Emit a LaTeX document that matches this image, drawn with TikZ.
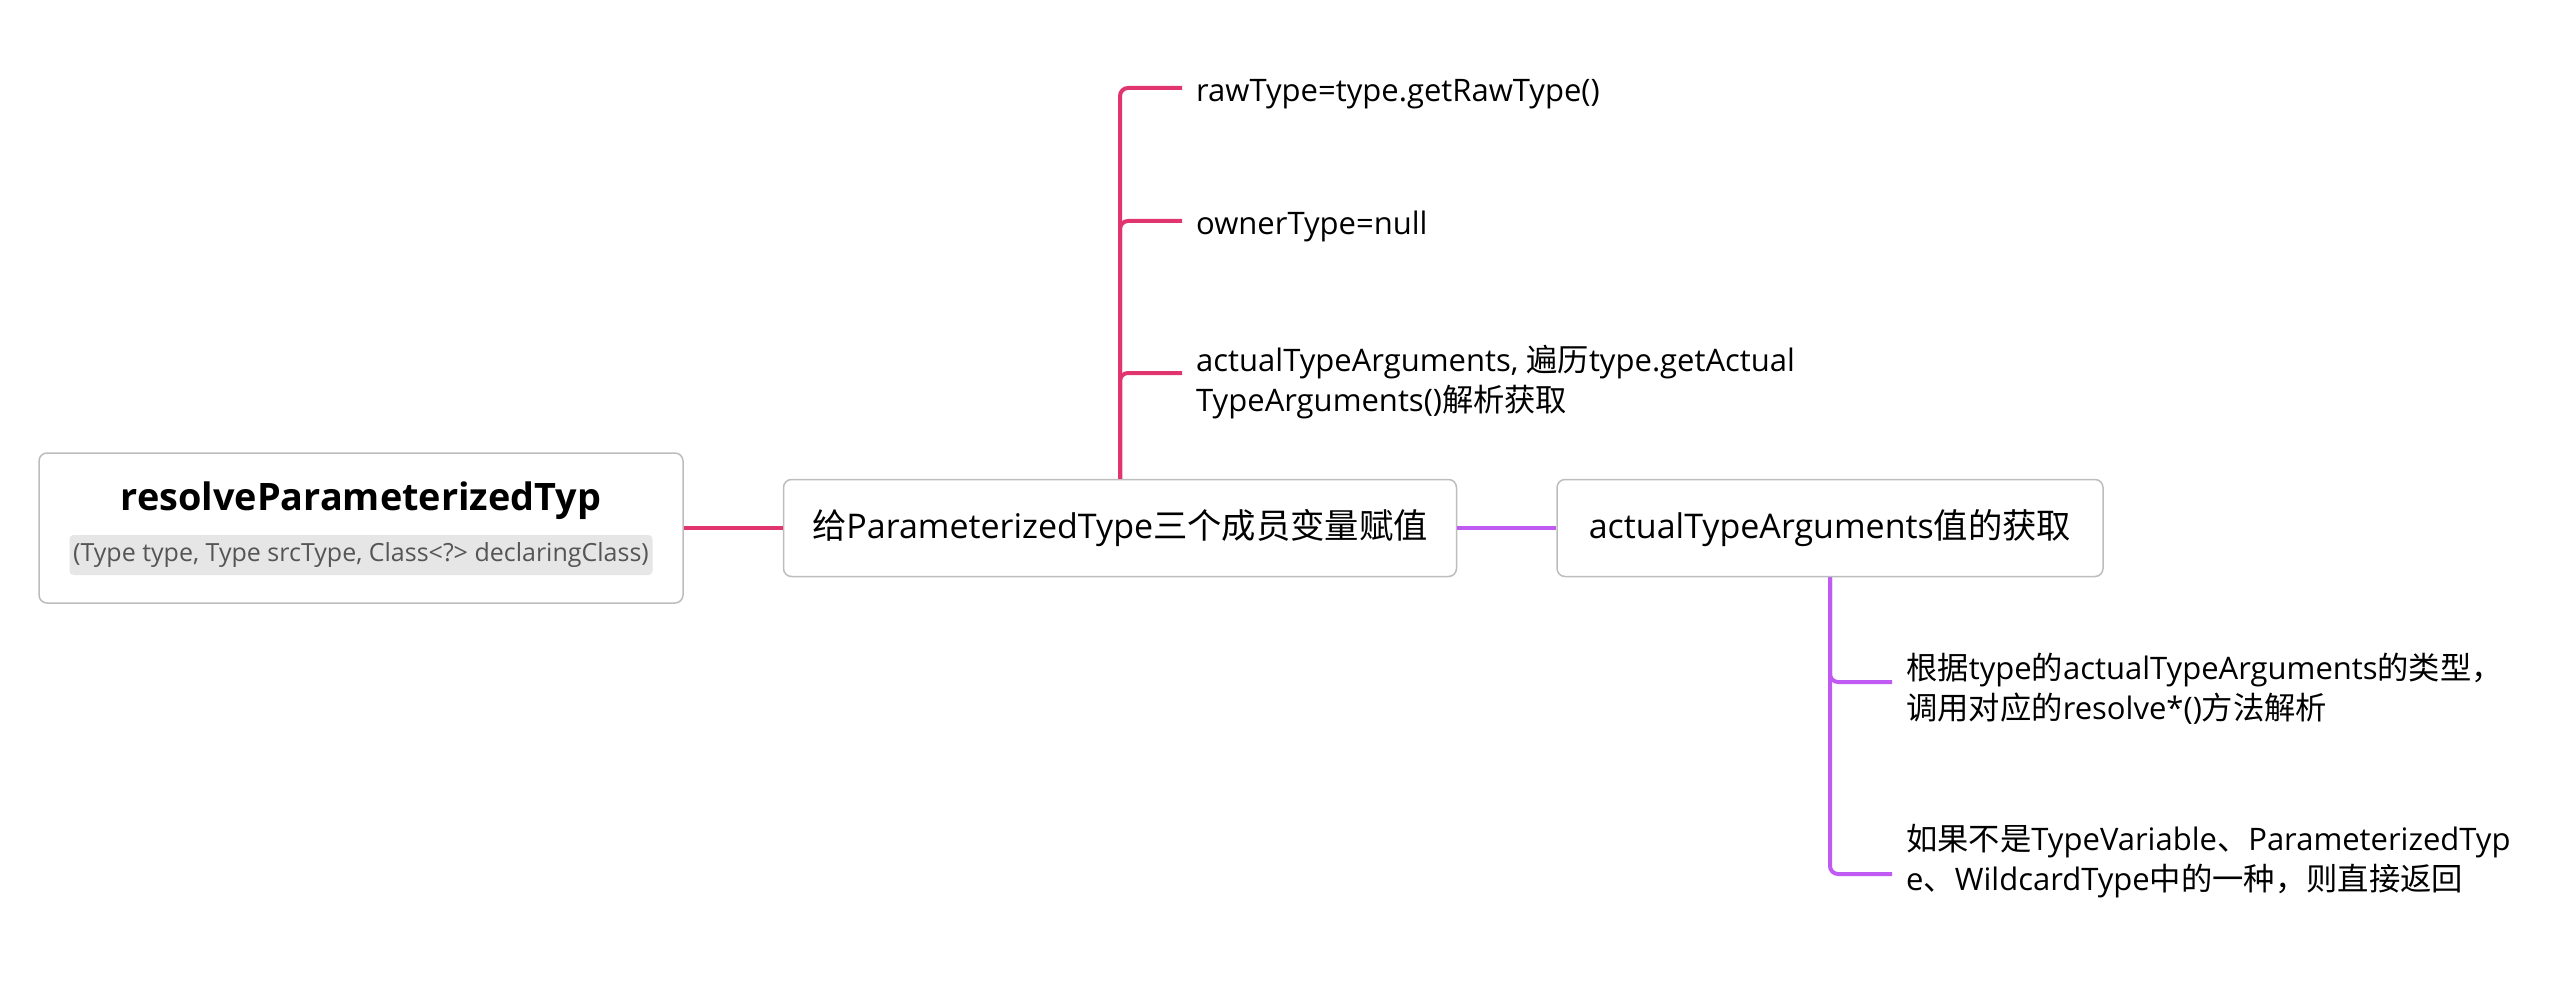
\documentclass[tikz,border=0pt]{standalone}
\usepackage{fontspec}
\setmainfont{Open Sans}
\newfontfamily\cjk{Noto Sans CJK SC}[Scale=1.01]
\newcommand\zh[1]{{\cjk #1}}
\usetikzlibrary{positioning}
\definecolor{branchred}{HTML}{E0356F}
\definecolor{branchpurple}{HTML}{BF5AF2}
\definecolor{boxgray}{HTML}{BDBDBD}
\definecolor{tagfill}{HTML}{E6E6E6}
\definecolor{taggray}{HTML}{555555}
\tikzset{
  topic/.style={draw=boxgray, line width=1.5pt, rounded corners=8pt, fill=white,
    minimum height=97pt, font=\fontsize{34}{40}\selectfont},
  leaf/.style={anchor=base west, align=left, inner sep=0pt,
    font=\fontsize{31}{40}\selectfont},
  redline/.style={branchred, line width=4pt, rounded corners=8pt},
  purpleline/.style={branchpurple, line width=4pt, rounded corners=8pt},
}
\begin{document}
\begin{tikzpicture}[x=1pt,y=-1pt]
  \useasboundingbox (0,0) rectangle (2568,1000);
  % central topic
  \node[topic, minimum width=644pt, minimum height=150pt] (root) at (361,528) {};
  \node[anchor=base, font=\bfseries\fontsize{37.8}{40}\selectfont] (title) at (361,510) {resolveParameterizedTyp};
  \node[fill=tagfill, rounded corners=4pt, minimum width=583pt, minimum height=40pt, inner sep=0pt,
    text=taggray, font=\fontsize{25}{30}\selectfont] (sig) at (361,555) {(Type type, Type srcType, Class<?> declaringClass)};
  % main topics
  \node[topic, minimum width=673pt] (assign) at (1120,528) {\zh{给}ParameterizedType\zh{三个成员变量赋值}};
  \node[topic, minimum width=546pt] (fetch) at (1830,528) {actualTypeArguments\zh{值的获取}};
  \draw[redline] (root.east) -- (assign.west);
  \draw[purpleline] (assign.east) -- (fetch.west);
  % members
  \coordinate (e1) at (1182,88);
  \coordinate (e2) at (1182,221);
  \coordinate (e3) at (1182,373);
  \node[leaf] (raw) at (1196,102) {rawType=type.getRawType()};
  \node[leaf] (owner) at (1196,235) {ownerType=null};
  \node[leaf] (actual) at (1196,411) {actualTypeArguments, \zh{遍历}type.getActual\\TypeArguments()\zh{解析获取}};
  \draw[redline] (assign.north) |- (e1);
  \draw[redline] (assign.north) |- (e2);
  \draw[redline] (assign.north) |- (e3);
  % resolving
  \coordinate (e4) at (1892,682);
  \coordinate (e5) at (1892,874);
  \node[leaf] (kind) at (1906,719) {\zh{根据}type\zh{的}actualTypeArguments\zh{的类型，}\\\zh{调用对应的}resolve*()\zh{方法解析}};
  \node[leaf] (other) at (1906,890) {\zh{如果不是}TypeVariable\zh{、}ParameterizedTyp\\e\zh{、}WildcardType\zh{中的一种，则直接返回}};
  \draw[purpleline] (fetch.south) |- (e4);
  \draw[purpleline] (fetch.south) |- (e5);
\end{tikzpicture}
\end{document}
